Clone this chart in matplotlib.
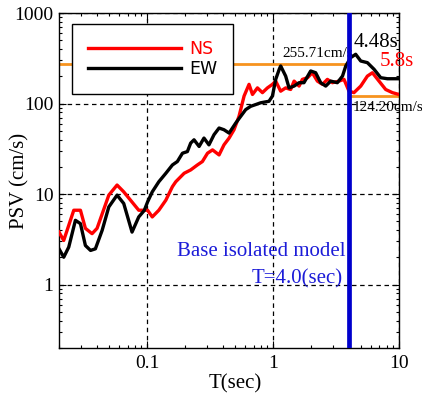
import matplotlib
matplotlib.use('Agg')
import matplotlib.pyplot as plt
from matplotlib import font_manager
from matplotlib.ticker import FixedLocator, LogLocator, NullFormatter, FuncFormatter

# ---------------- data ----------------
T_ns = [0.020, 0.0218, 0.0262, 0.0296, 0.0324, 0.0366, 0.0401, 0.0497, 0.0578, 0.0653,
        0.0859, 0.101, 0.110, 0.124, 0.141, 0.159, 0.169, 0.197, 0.222, 0.251, 0.275,
        0.302, 0.331, 0.373, 0.408, 0.448, 0.49, 0.537, 0.589, 0.645, 0.687, 0.752,
        0.824, 0.903, 0.989, 1.05, 1.15, 1.26, 1.38, 1.47, 1.61, 1.71, 1.88, 2.05,
        2.25, 2.47, 2.70, 2.96, 3.34, 3.66, 4.01, 4.39, 4.97, 5.61, 6.15, 6.94, 7.84,
        8.87, 10.0]
psv_ns = [3.81, 3.08, 6.64, 6.64, 4.19, 3.66, 4.19, 9.75, 12.6, 10.6,
          6.64, 6.64, 5.6, 6.64, 8.58, 12.1, 13.7, 17.0, 18.5, 21.0, 22.9,
          28.3, 30.8, 27.1, 35.0, 41.6, 51.4, 72.3, 121, 163, 126, 149,
          132, 149, 163, 177, 137, 149, 143, 177, 156, 185, 193, 219,
          177, 163, 185, 170, 177, 185, 137, 132, 156, 201, 219, 177, 143,
          132, 126]

T_ew = [0.020, 0.0218, 0.0239, 0.027, 0.0296, 0.0324, 0.0356, 0.0389, 0.044, 0.0497,
        0.0578, 0.0653, 0.076, 0.0859, 0.095, 0.101, 0.110, 0.124, 0.141, 0.159,
        0.174, 0.191, 0.209, 0.222, 0.236, 0.259, 0.283, 0.310, 0.34, 0.373, 0.408,
        0.448, 0.506, 0.554, 0.607, 0.665, 0.729, 0.798, 0.929, 0.989, 1.05, 1.12,
        1.15, 1.26, 1.34, 1.47, 1.61, 1.76, 1.99, 2.18, 2.39, 2.62, 2.87, 3.24, 3.56,
        3.78, 4.14, 4.53, 4.97, 5.61, 6.34, 7.16, 8.09, 10.0]
psv_ew = [2.49, 2.01, 2.60, 5.14, 4.72, 2.71, 2.39, 2.49, 3.98, 7.22,
          9.75, 7.88, 3.81, 5.6, 6.6, 8.21, 10.6, 13.7, 17.0, 21.0,
          22.9, 28.3, 29.5, 36.6, 39.8, 33.6, 41.6, 35.0, 45.3, 53.7, 51.4,
          47.2, 61.0, 72.3, 85.8, 93.3, 97.5, 102, 106, 121, 185, 239,
          260, 201, 149, 156, 170, 170, 229, 219, 170, 156, 177, 170, 201,
          260, 322, 350, 295, 283, 239, 193, 188, 188]

series_labels = ['NS', 'EW']
x_ticks = [0.1, 1, 10]
y_ticks = [1, 10, 100, 1000]

T_isolated = 4.0
psv_upper = 275.0      # drawn level of the 255.71 cm/s line
psv_lower = 120.0      # drawn level of the 124.20 cm/s line
upper_label = '255.71cm/s'
lower_label = '124.20cm/s'
peak_ew_label = '4.48s'
peak_ns_label = '5.8s'

# ---------------- style ----------------
names = {f.name for f in font_manager.fontManager.ttflist}
narrow = 'Liberation Sans Narrow' if 'Liberation Sans Narrow' in names else 'DejaVu Sans'
plt.rcParams['font.family'] = ['Liberation Serif', 'DejaVu Serif']

fig = plt.figure(figsize=(4.22, 3.99), dpi=100)
ax = fig.add_axes([59 / 422, 1 - 348 / 399, 340 / 422, 335 / 399])
ax.set_xscale('log')
ax.set_yscale('log')
ax.set_xlim(0.02, 10)
ax.set_ylim(0.2, 1000)

ax.grid(True, which='major', color='black', lw=0.9, ls=(0, (3.6, 2.9)))

ax.hlines(psv_upper, 0.02, T_isolated, color='#F7931E', lw=2.0, zorder=2)
ax.hlines(psv_lower, T_isolated, 10, color='#F7931E', lw=2.0, zorder=2)

l_ns, = ax.plot(T_ns, psv_ns, color='#FF0000', lw=2.4, label=series_labels[0], zorder=3)
l_ew, = ax.plot(T_ew, psv_ew, color='black', lw=2.4, label=series_labels[1], zorder=3)

ax.text(1.19, 324, upper_label, fontsize=11, ha='left', va='baseline', zorder=3)
ax.axvline(T_isolated, color='#0000CC', lw=3.4, zorder=5)
ax.text(4.37, 419, peak_ew_label, fontsize=15, ha='left', va='baseline', zorder=6)
ax.text(7.07, 260, peak_ns_label, fontsize=15, color='#FF0000', ha='left', va='baseline',
        clip_on=False, zorder=6)
ax.text(4.27, 82, lower_label, fontsize=11, ha='left', va='baseline', clip_on=False, zorder=6)
ax.text(3.78, 2.05, 'Base isolated model', fontsize=15, color='#1C1CD8', ha='right',
        va='baseline', zorder=4)
ax.text(3.56, 1.02, 'T=4.0(sec)', fontsize=15, color='#1C1CD8', ha='right',
        va='baseline', zorder=4)

fmt = FuncFormatter(lambda v, p: '%g' % v)
ax.xaxis.set_major_locator(FixedLocator(x_ticks))
ax.xaxis.set_minor_locator(LogLocator(base=10, subs=range(2, 10)))
ax.xaxis.set_major_formatter(fmt)
ax.xaxis.set_minor_formatter(NullFormatter())
ax.yaxis.set_major_locator(FixedLocator(y_ticks))
ax.yaxis.set_minor_locator(LogLocator(base=10, subs=range(2, 10)))
ax.yaxis.set_major_formatter(fmt)
ax.yaxis.set_minor_formatter(NullFormatter())
ax.tick_params(which='both', direction='in', top=True, right=True, width=0.8)
ax.tick_params(which='major', length=5)
ax.tick_params(which='minor', length=2.5)
ax.tick_params(axis='x', which='major', labelsize=14, pad=5)
ax.tick_params(axis='y', which='major', labelsize=14, pad=4)
for s in ax.spines.values():
    s.set_linewidth(1.0)

ax.set_xlabel('T(sec)', fontsize=15)
ax.set_ylabel('PSV (cm/s)', fontsize=15)
ax.xaxis.set_label_coords(0.518, -0.078)
ax.yaxis.set_label_coords(-0.087, 0.5)

leg = ax.legend(handles=[l_ns, l_ew], loc='upper left',
                bbox_to_anchor=((72 - 59) / 340, 1 - (24 - 13) / 335), borderaxespad=0,
                prop={'family': narrow, 'size': 12.5}, handlelength=5.4,
                handletextpad=0.45, borderpad=0.9, labelspacing=0.15,
                fancybox=False, framealpha=1, edgecolor='black')
leg.get_frame().set_linewidth(1.0)
leg.set_zorder(7)
for t, c in zip(leg.get_texts(), ['#FF0000', 'black']):
    t.set_color(c)

fig.savefig('out.png', dpi=100)
